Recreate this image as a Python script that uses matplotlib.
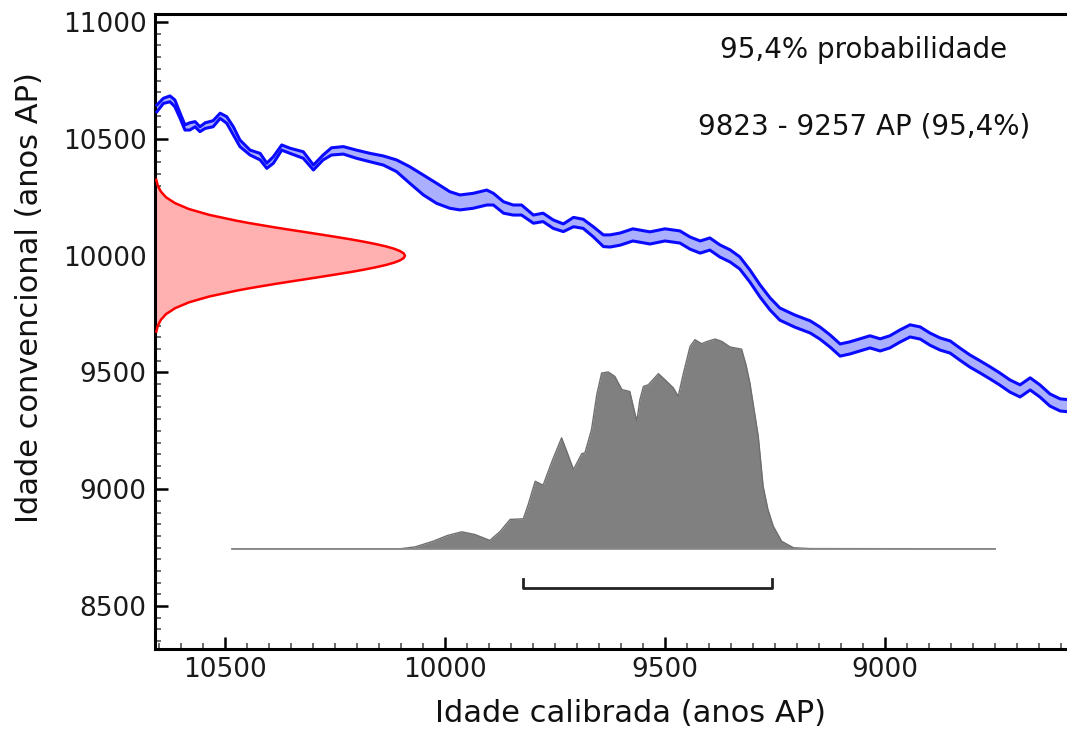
import numpy as np
import matplotlib.pyplot as plt
from matplotlib.ticker import MultipleLocator

# calibration curve band (cal BP vs. radiocarbon age, upper / lower edge)
cal_bp = [10655, 10640, 10625, 10614, 10602, 10591, 10580, 10568, 10557, 10545,
          10527, 10511, 10496, 10481, 10466, 10443, 10420, 10405, 10390, 10371,
          10352, 10322, 10299, 10277, 10258, 10231, 10201, 10170, 10140, 10110,
          10080, 10049, 10019, 9989, 9966, 9936, 9905, 9890, 9867, 9845,
          9826, 9799, 9777, 9754, 9731, 9708, 9686, 9663, 9640, 9625,
          9602, 9573, 9534, 9500, 9466, 9443, 9420, 9398, 9375, 9352,
          9330, 9307, 9284, 9261, 9239, 9205, 9170, 9148, 9125, 9102,
          9080, 9057, 9034, 9011, 8989, 8966, 8943, 8920, 8898, 8875,
          8852, 8830, 8807, 8784, 8761, 8739, 8716, 8693, 8670, 8648,
          8625, 8602, 8580]
c14_hi = [10645, 10674, 10684, 10667, 10610, 10560, 10569, 10574, 10552, 10569,
          10578, 10610, 10595, 10552, 10495, 10452, 10438, 10396, 10424, 10474,
          10460, 10445, 10388, 10431, 10462, 10467, 10452, 10438, 10427, 10410,
          10381, 10345, 10310, 10274, 10260, 10267, 10281, 10267, 10231, 10217,
          10217, 10174, 10182, 10153, 10136, 10164, 10156, 10124, 10089, 10089,
          10097, 10115, 10102, 10115, 10106, 10080, 10063, 10076, 10046, 10025,
          9995, 9939, 9875, 9819, 9776, 9746, 9721, 9695, 9661, 9622,
          9631, 9644, 9657, 9644, 9657, 9682, 9704, 9695, 9669, 9648,
          9635, 9605, 9575, 9550, 9524, 9498, 9468, 9447, 9477, 9447,
          9408, 9387, 9383]
c14_lo = [10616, 10652, 10659, 10638, 10588, 10538, 10538, 10552, 10531, 10545,
          10552, 10588, 10567, 10517, 10467, 10431, 10410, 10374, 10396, 10452,
          10438, 10417, 10367, 10410, 10431, 10435, 10417, 10402, 10388, 10360,
          10310, 10260, 10224, 10203, 10196, 10203, 10217, 10217, 10182, 10174,
          10174, 10139, 10146, 10117, 10103, 10124, 10117, 10081, 10039, 10037,
          10045, 10063, 10050, 10063, 10054, 10028, 10011, 10024, 9994, 9973,
          9943, 9887, 9823, 9767, 9724, 9694, 9669, 9643, 9609, 9570,
          9579, 9592, 9605, 9592, 9605, 9630, 9652, 9643, 9617, 9596,
          9583, 9553, 9523, 9498, 9472, 9446, 9416, 9395, 9425, 9395,
          9356, 9335, 9331]

# measured radiocarbon age distribution (relative density)
c14_age = [9675, 9700, 9725, 9750, 9775, 9800, 9825, 9850, 9860, 9870, 9880,
           9890, 9900, 9910, 9920, 9930, 9940, 9950, 9960, 9970, 9980, 9990,
           10000, 10010, 10020, 10030, 10040, 10050, 10060, 10070, 10080,
           10090, 10100, 10110, 10120, 10130, 10140, 10150, 10175, 10200,
           10225, 10250, 10275, 10300, 10325]
c14_prob = [0.005, 0.011, 0.023, 0.044, 0.080, 0.135, 0.216, 0.325, 0.375,
            0.430, 0.486, 0.546, 0.607, 0.667, 0.726, 0.783, 0.835, 0.882,
            0.923, 0.956, 0.980, 0.995, 1.0, 0.995, 0.980, 0.956, 0.923,
            0.882, 0.835, 0.783, 0.726, 0.667, 0.607, 0.546, 0.486, 0.430,
            0.375, 0.325, 0.216, 0.135, 0.080, 0.044, 0.023, 0.011, 0.005]

# calibrated age distribution (relative density)
cal_age = [10484, 10102, 10068, 10027, 9995, 9962, 9932, 9898, 9875, 9852,
           9822, 9811, 9795, 9777, 9757, 9735, 9723, 9708, 9689, 9682,
           9667, 9655, 9644, 9629, 9614, 9598, 9580, 9573, 9564, 9557,
           9549, 9538, 9515, 9500, 9481, 9470, 9458, 9443, 9432, 9417,
           9402, 9386, 9371, 9352, 9326, 9316, 9307, 9288, 9277, 9266,
           9254, 9235, 9208, 9170, 8750]
cal_prob = [0.0, 0.0, 0.009, 0.036, 0.063, 0.081, 0.068, 0.040, 0.082, 0.14,
            0.143, 0.21, 0.322, 0.303, 0.416, 0.529, 0.463, 0.378, 0.454, 0.457,
            0.568, 0.735, 0.838, 0.843, 0.822, 0.759, 0.750, 0.687, 0.608, 0.711,
            0.774, 0.782, 0.835, 0.806, 0.767, 0.727, 0.838, 0.965, 0.997, 0.978,
            0.990, 1.0, 0.989, 0.962, 0.952, 0.878, 0.790, 0.536, 0.298, 0.187,
            0.108, 0.036, 0.005, 0.001, 0.0]

range_95 = (9823, 9257)
x_ticks = [10500, 10000, 9500, 9000]
x_lim = (10659, 8500)
y_lim = (8316, 11035)

fig = plt.figure(figsize=(10.67, 7.31), dpi=100)
ax = fig.add_axes([0.1453, 0.1122, 0.8903, 0.8687])

# calibration band
ax.fill_between(cal_bp, c14_lo, c14_hi, color='#aab0ff', lw=0, zorder=2)
ax.plot(cal_bp, c14_hi, color='#0a0aff', lw=2.2, zorder=3)
ax.plot(cal_bp, c14_lo, color='#0a0aff', lw=2.2, zorder=3)

# radiocarbon age on the y axis
c14_width = 568
red_x = x_lim[0] - np.array(c14_prob) * c14_width
ax.fill_betweenx(c14_age, x_lim[0], red_x, color='#ffb0b0', lw=0, zorder=2)
ax.plot(red_x, c14_age, color='red', lw=1.8, zorder=3)

# calibrated distribution
cal_base = 8745
cal_height = 898
gray_y = cal_base + np.array(cal_prob) * cal_height
ax.fill_between(cal_age, cal_base, gray_y, color='#808080', lw=0, zorder=2)
ax.plot(cal_age, gray_y, color='#6e6e6e', lw=1.0, zorder=3)
ax.plot(cal_age, [cal_base] * len(cal_age), color='#8a8a8a', lw=1.2, zorder=3)

# 95.4% range bracket
bar_y, tick_y = 8577, 8617
ax.plot([range_95[0], range_95[0], range_95[1], range_95[1]],
        [tick_y, bar_y, bar_y, tick_y], color='#222222', lw=2.0, zorder=4)

ax.set_xlim(*x_lim)
ax.set_ylim(*y_lim)
ax.set_xticks(x_ticks)
ax.xaxis.set_minor_locator(MultipleLocator(50))
ax.yaxis.set_major_locator(MultipleLocator(500))
ax.yaxis.set_minor_locator(MultipleLocator(50))
ax.tick_params(which='major', direction='in', length=9, width=1.8,
               labelsize=19, labelcolor='#1a1a1a', pad=6)
ax.tick_params(which='minor', direction='in', length=4, width=1.1,
               color='#444444')
ax.tick_params(top=False, right=False, which='both')

for side in ['left', 'bottom', 'top']:
    ax.spines[side].set_linewidth(2.2)
ax.spines['right'].set_visible(False)

ax.set_xlabel('Idade calibrada (anos AP)', fontsize=22, color='#111111')
ax.set_ylabel('Idade convencional (anos AP)', fontsize=22, color='#111111')
ax.xaxis.set_label_coords(0.5, -0.078)
ax.yaxis.set_label_coords(-0.117, 0.554)

fig.text(0.8097, 0.9316, '95,4% probabilidade', fontsize=20,
         ha='center', va='center', color='#111111')
fig.text(0.8097, 0.8263, '%d - %d AP (95,4%%)' % range_95, fontsize=20,
         ha='center', va='center', color='#111111')

fig.savefig('out.png', dpi=100)
